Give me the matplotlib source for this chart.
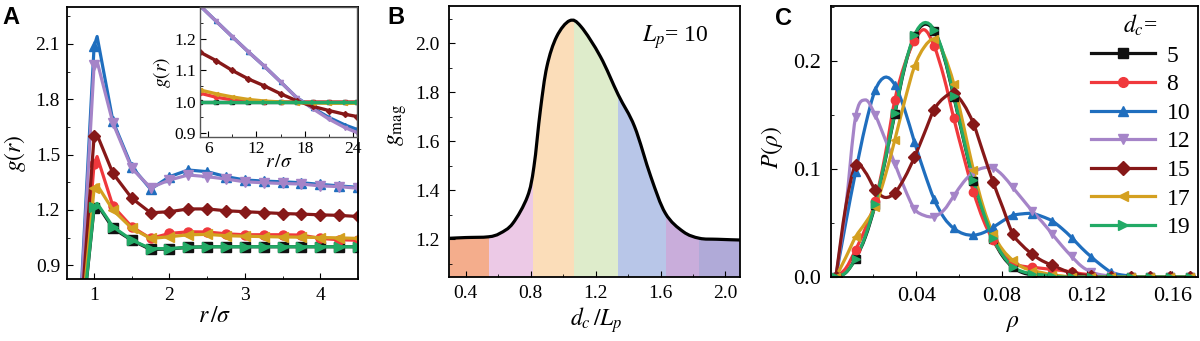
import matplotlib
matplotlib.use("Agg")
import matplotlib.pyplot as plt
import numpy as np
from matplotlib.path import Path
from matplotlib.patches import PathPatch
from matplotlib.lines import Line2D

plt.rcParams.update({
    "font.family": "Liberation Serif",
    "mathtext.fontset": "stix",
    "xtick.direction": "in",
    "ytick.direction": "in",
    "axes.linewidth": 1.3,
    "xtick.major.size": 4, "ytick.major.size": 4,
    "xtick.minor.size": 2.5, "ytick.minor.size": 2.5,
})

# ---------------- data ----------------
dc_labels = ["5", "8", "10", "12", "15", "17", "19"]
colors = ["#111111", "#f0383c", "#1f6ebe", "#a584c8", "#861818", "#d4a020", "#22aa66"]
markers = ["s", "o", "^", "v", "D", "<", ">"]

# panel A: g(r), main plot
r_main = [0.8, 1.0, 1.04, 1.25, 1.5, 1.75, 2.0, 2.25, 2.5, 2.75, 3.0, 3.25, 3.5, 3.75, 4.0, 4.25, 4.5]
gA_5 = [0.43, 1.21, 1.23, 1.10, 1.035, 0.985, 0.988, 0.997, 1.0, 1.0, 1.0, 1.0, 1.0, 1.0, 1.0, 1.0, 1.0]
gA_8 = [0.46, 1.45, 1.489, 1.22, 1.108, 1.045, 1.072, 1.081, 1.08, 1.07, 1.065, 1.065, 1.065, 1.063, 1.045, 1.038, 1.035]
gA_10 = [0.54, 2.087, 2.14, 1.68, 1.434, 1.312, 1.38, 1.416, 1.407, 1.38, 1.362, 1.356, 1.352, 1.347, 1.338, 1.33, 1.322]
gA_12 = [0.52, 1.987, 2.005, 1.67, 1.425, 1.32, 1.362, 1.389, 1.38, 1.367, 1.352, 1.347, 1.343, 1.34, 1.33, 1.326, 1.317]
gA_15 = [0.48, 1.598, 1.607, 1.398, 1.263, 1.184, 1.19, 1.205, 1.205, 1.195, 1.19, 1.185, 1.18, 1.177, 1.173, 1.17, 1.164]
gA_17 = [0.45, 1.317, 1.335, 1.199, 1.10, 1.045, 1.054, 1.065, 1.067, 1.06, 1.057, 1.055, 1.053, 1.052, 1.05, 1.048, 1.045]
gA_19 = [0.43, 1.217, 1.235, 1.108, 1.036, 0.99, 0.99, 0.997, 1.0, 1.0, 1.0, 1.0, 1.0, 1.0, 1.0, 1.0, 1.0]
gA = [gA_5, gA_8, gA_10, gA_12, gA_15, gA_17, gA_19]

# panel A: inset (long range)
r_inset = [5, 7, 9, 11, 13, 15, 17, 19, 21, 23, 24.5]
gI_5 = [1.0, 1.0, 1.0, 1.0, 1.0, 1.0, 1.0, 1.0, 1.0, 1.0, 1.0]
gI_8 = [1.027, 1.014, 1.006, 1.001, 0.999, 0.999, 0.999, 0.999, 0.999, 0.999, 0.999]
gI_10 = [1.304, 1.255, 1.206, 1.158, 1.112, 1.063, 1.013, 0.98, 0.95, 0.926, 0.912]
gI_12 = [1.304, 1.255, 1.206, 1.158, 1.112, 1.063, 1.013, 0.978, 0.945, 0.918, 0.902]
gI_15 = [1.157, 1.13, 1.099, 1.072, 1.05, 1.025, 1.003, 0.985, 0.972, 0.96, 0.953]
gI_17 = [1.037, 1.025, 1.015, 1.007, 1.002, 0.999, 0.997, 0.996, 0.995, 0.995, 0.995]
gI_19 = [1.0, 1.0, 1.0, 1.0, 1.0, 1.0, 1.0, 1.0, 1.0, 1.0, 1.0]
gI = [gI_5, gI_8, gI_10, gI_12, gI_15, gI_17, gI_19]

# panel B: g_mag vs d_c/L_p
dL = [0.30, 0.40, 0.54, 0.61, 0.69, 0.78, 0.82, 0.86, 0.90, 0.96, 1.04, 1.11,
      1.23, 1.34, 1.44, 1.54, 1.63, 1.74, 1.84, 1.95, 2.09]
gmag = [1.204, 1.207, 1.21, 1.224, 1.265, 1.374, 1.496, 1.728, 1.905, 2.027, 2.092, 2.068,
        1.945, 1.789, 1.66, 1.456, 1.306, 1.231, 1.204, 1.200, 1.197]
band_edges = [0.297, 0.542, 0.817, 1.064, 1.338, 1.634, 1.840, 2.09]
band_colors = ["#f4ad8c", "#ecc9e6", "#fbddb9", "#deeccb", "#b8c6e8", "#c9addb", "#b0aad8"]

# panel C: P(rho)
rho = [0.0024, 0.0070, 0.0116, 0.0162, 0.0208, 0.0254, 0.0300, 0.0346, 0.0392, 0.0438,
       0.0484, 0.0530, 0.0576, 0.0622, 0.0668, 0.0714, 0.0760, 0.0806, 0.0852, 0.0898,
       0.0944, 0.0990, 0.1036, 0.1082, 0.1128, 0.1174, 0.1220, 0.1266, 0.1312, 0.1358,
       0.1404, 0.1450, 0.1496, 0.1542, 0.1588, 0.1634, 0.1680]
P_5 = [0.0, 0.004, 0.017, 0.037, 0.067, 0.107, 0.151, 0.194, 0.223, 0.234, 0.228, 0.204,
       0.167, 0.127, 0.089, 0.059, 0.035, 0.019, 0.009, 0.004, 0.002, 0.001, 0.0, 0.0, 0.0,
       0.0, 0.0, 0.0, 0.0, 0.0, 0.0, 0.0, 0.0, 0.0, 0.0, 0.0, 0.0]
P_8 = [0.0, 0.008, 0.025, 0.045, 0.070, 0.112, 0.164, 0.197, 0.219, 0.229, 0.214, 0.185,
       0.147, 0.112, 0.079, 0.053, 0.034, 0.021, 0.013, 0.010, 0.009, 0.008, 0.007, 0.006,
       0.0046, 0.003, 0.002, 0.001, 0.0, 0.0, 0.0, 0.0, 0.0, 0.0, 0.0, 0.0, 0.0]
P_10 = [0.0, 0.050, 0.097, 0.140, 0.173, 0.185, 0.178, 0.155, 0.125, 0.097, 0.072, 0.055,
        0.045, 0.040, 0.0387, 0.041, 0.046, 0.052, 0.057, 0.0585, 0.0588, 0.056, 0.052, 0.045,
        0.0365, 0.027, 0.0186, 0.011, 0.0046, 0.002, 0.001, 0.0, 0.0, 0.0, 0.0, 0.0, 0.0]
P_12 = [0.0, 0.064, 0.148, 0.164, 0.150, 0.128, 0.105, 0.082, 0.063, 0.057, 0.056, 0.062,
        0.075, 0.088, 0.097, 0.101, 0.101, 0.094, 0.083, 0.072, 0.061, 0.051, 0.040, 0.029,
        0.019, 0.010, 0.0046, 0.002, 0.001, 0.0, 0.0, 0.0, 0.0, 0.0, 0.0, 0.0, 0.0]
P_15 = [0.0, 0.065, 0.104, 0.097, 0.081, 0.0737, 0.078, 0.092, 0.111, 0.133, 0.155, 0.166,
        0.170, 0.160, 0.142, 0.115, 0.088, 0.064, 0.040, 0.029, 0.021, 0.015, 0.011, 0.007,
        0.0037, 0.002, 0.001, 0.0, 0.0, 0.0, 0.0, 0.0, 0.0, 0.0, 0.0, 0.0, 0.0]
P_17 = [0.0, 0.018, 0.037, 0.050, 0.065, 0.093, 0.127, 0.163, 0.195, 0.213, 0.220, 0.206,
        0.179, 0.140, 0.099, 0.065, 0.040, 0.025, 0.0155, 0.009, 0.006, 0.004, 0.002, 0.001,
        0.0, 0.0, 0.0, 0.0, 0.0, 0.0, 0.0, 0.0, 0.0, 0.0, 0.0, 0.0, 0.0]
P_19 = [0.0, 0.004, 0.017, 0.038, 0.068, 0.108, 0.152, 0.195, 0.224, 0.2355, 0.229, 0.205,
        0.168, 0.128, 0.090, 0.060, 0.036, 0.020, 0.0093, 0.005, 0.003, 0.002, 0.001, 0.0,
        0.0, 0.0, 0.0, 0.0, 0.0, 0.0, 0.0, 0.0, 0.0, 0.0, 0.0, 0.0, 0.0]
P = [P_5, P_8, P_10, P_12, P_15, P_17, P_19]

A_yticks = [0.9, 1.2, 1.5, 1.8, 2.1]
A_xticks = [1, 2, 3, 4]
B_xticks = [0.4, 0.8, 1.2, 1.6, 2.0]
B_yticks = [1.2, 1.4, 1.6, 1.8, 2.0]
C_xticks = [0.04, 0.08, 0.12, 0.16]
C_yticks = [0.0, 0.1, 0.2]


def smooth_path(x, y):
    # cubic bezier (catmull-rom style) through the data points
    x = np.asarray(x, float)
    y = np.asarray(y, float)
    n = len(x)
    verts = [(x[0], y[0])]
    codes = [Path.MOVETO]
    for i in range(n - 1):
        i0 = max(i - 1, 0)
        i3 = min(i + 2, n - 1)
        c1 = (x[i] + (x[i + 1] - x[i0]) / 6, y[i] + (y[i + 1] - y[i0]) / 6)
        c2 = (x[i + 1] - (x[i3] - x[i]) / 6, y[i + 1] - (y[i3] - y[i]) / 6)
        verts += [c1, c2, (x[i + 1], y[i + 1])]
        codes += [Path.CURVE4] * 3
    return verts, codes


fig = plt.figure(figsize=(12, 3.41), dpi=100)

# ---------------- panel A ----------------
axA = fig.add_axes([0.0558, 0.1818, 0.2425, 0.7977])
mk_idx = [1] + list(range(3, len(r_main)))
for g, c, m in zip(gA, colors, markers):
    axA.plot(r_main, g, color=c, lw=2.3, marker=m, ms=6.5, markevery=mk_idx)
axA.set_xlim(0.64, 4.5)
axA.set_ylim(0.825, 2.3)
axA.set_xticks(A_xticks)
axA.set_xticks([1.5, 2.5, 3.5, 4.5], minor=True)
axA.set_yticks(A_yticks)
axA.set_yticks([1.05, 1.35, 1.65, 1.95, 2.25], minor=True)
axA.set_yticklabels(["%.1f" % v for v in A_yticks])
axA.tick_params(labelsize=14)
axA.tick_params(axis="y", pad=5)
axA.tick_params(axis="x", pad=6)
fig.text(15 / 1200, 1 - 153 / 341, "$g(r)$", rotation=90, ha="center", va="center", fontsize=17)
fig.text(215 / 1200, 1 - 317 / 341, "$r\\,/\\sigma$", ha="center", va="center", fontsize=17)

axI = fig.add_axes([0.1667, 0.5982, 0.1308, 0.3813])
for g, c, m in zip(gI, colors, markers):
    axI.plot(r_inset, g, color=c, lw=2.4, marker=m, ms=3)
axI.set_xlim(5, 24.5)
axI.set_ylim(0.888, 1.30)
axI.set_xticks([6, 12, 18, 24])
axI.set_xticks([9, 15, 21], minor=True)
axI.set_yticks([0.9, 1.0, 1.1, 1.2])
axI.set_yticks([0.95, 1.05, 1.15, 1.25], minor=True)
axI.set_yticklabels(["0.9", "1.0", "1.1", "1.2"])
axI.tick_params(labelsize=12.5, pad=3)
for s in axI.spines.values():
    s.set_color("#555555")
    s.set_linewidth(1.0)
axI.set_ylabel("$g(r)$", fontsize=14, labelpad=1)
axI.set_xlabel("$r\\,/\\sigma$", fontsize=14, labelpad=-2)

# ---------------- panel B ----------------
axB = fig.add_axes([0.3742, 0.1877, 0.2425, 0.7947])
axB.set_xlim(0.297, 2.09)
axB.set_ylim(1.046, 2.152)
verts, codes = smooth_path(dL, gmag)
area = PathPatch(Path(verts + [(dL[-1], 1.0), (dL[0], 1.0), (dL[0], gmag[0])],
                      codes + [Path.LINETO, Path.LINETO, Path.CLOSEPOLY]),
                 transform=axB.transData, facecolor="none", edgecolor="none")
axB.add_patch(area)
for i, c in enumerate(band_colors):
    span = axB.axvspan(band_edges[i], band_edges[i + 1], color=c, lw=0)
    span.set_clip_path(area)
axB.add_patch(PathPatch(Path(verts, codes), facecolor="none", edgecolor="black", lw=2.3, zorder=3))
axB.set_xticks(B_xticks)
axB.set_xticks([0.6, 1.0, 1.4, 1.8], minor=True)
axB.set_yticks(B_yticks)
axB.set_yticks([1.1, 1.3, 1.5, 1.7, 1.9, 2.1], minor=True)
axB.set_xticklabels(["%.1f" % v for v in B_xticks])
axB.set_yticklabels(["%.1f" % v for v in B_yticks])
axB.tick_params(labelsize=14)
axB.tick_params(axis="y", pad=7)
axB.tick_params(axis="x", pad=6)
axB.text(1.69, 2.026, "$L_p$= 10", ha="center", va="center", fontsize=17)
fig.text(398 / 1200, 1 - 125 / 341, "$g_{\\rm mag}$", rotation=90, ha="center", va="center", fontsize=17)
fig.text(596 / 1200, 1 - 320 / 341, "$d_c\\,/L_p$", ha="center", va="center", fontsize=17)

# ---------------- panel C ----------------
axC = fig.add_axes([0.6923, 0.1877, 0.3061, 0.7947])
axC.set_xlim(0, 0.172)
axC.set_ylim(0, 0.251)
handles = []
for p, c, m, lab in zip(P, colors, markers, dc_labels):
    verts, codes = smooth_path(rho, p)
    axC.add_patch(PathPatch(Path(verts, codes), facecolor="none", edgecolor=c, lw=2.3))
    axC.plot(rho[::2], p[::2], ls="none", marker=m, color=c, ms=6)
    handles.append(Line2D([], [], color=c, marker=m, lw=2.3, ms=7, label=lab))
axC.set_xticks(C_xticks)
axC.set_xticks([0.02, 0.06, 0.10, 0.14], minor=True)
axC.set_yticks(C_yticks)
axC.set_yticks([0.05, 0.15, 0.25], minor=True)
axC.set_xticklabels(["%.2f" % v for v in C_xticks])
axC.set_yticklabels(["%.1f" % v for v in C_yticks])
axC.tick_params(labelsize=16)
axC.tick_params(axis="y", pad=7)
axC.tick_params(axis="x", pad=7)
leg = axC.legend(handles=handles, loc="upper right", bbox_to_anchor=(1.03, 1.045), frameon=False,
                 fontsize=17, title="$d_c$=", title_fontsize=17, handlelength=2.7,
                 labelspacing=0.3, handletextpad=0.5, borderpad=0.3)
fig.text(772 / 1200, 1 - 148 / 341, "$P(\\rho)$", rotation=90, ha="center", va="center", fontsize=17)
fig.text(1013 / 1200, 1 - 323 / 341, "$\\rho$", ha="center", va="center", fontsize=17)

# panel letters
for lab, x, y in [("A", 2, 6), ("B", 387, 6), ("C", 775, 7)]:
    fig.text(x / 1200, 1 - y / 341, lab, fontsize=17, fontweight="bold",
             family="Liberation Sans", ha="left", va="top")

fig.savefig("out.png", dpi=100)
